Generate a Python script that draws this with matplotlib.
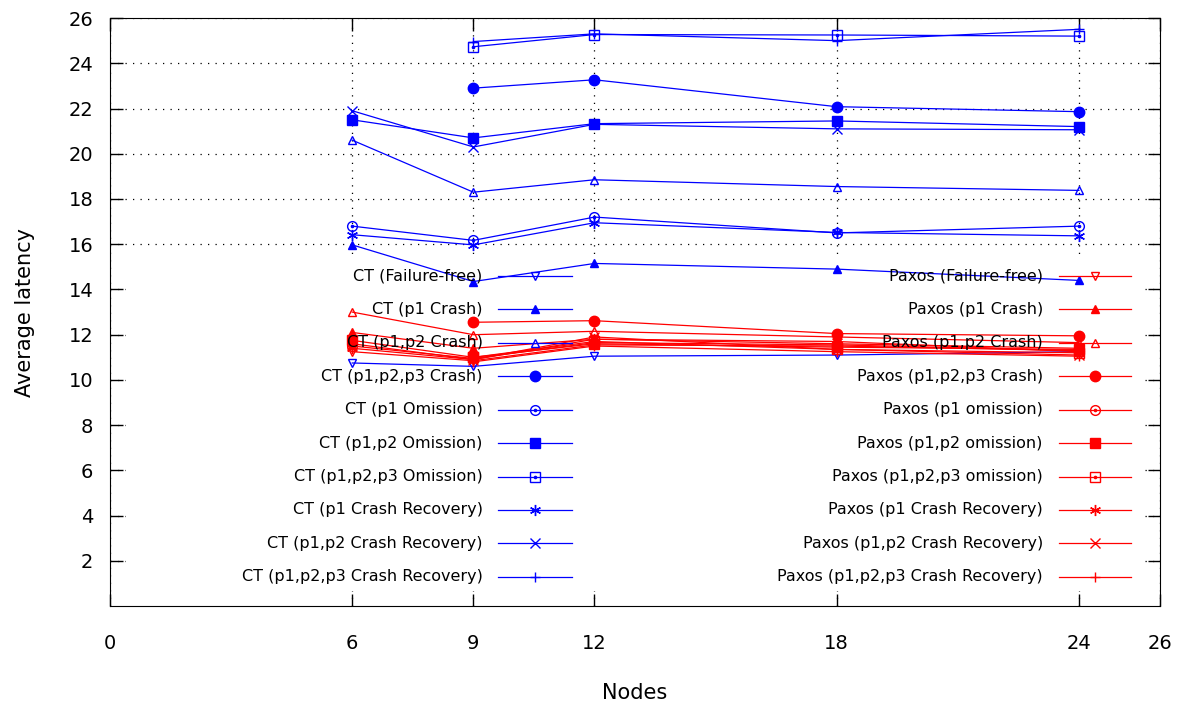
import numpy as np
import matplotlib.pyplot as plt
from matplotlib.patches import Rectangle

nan = np.nan
nodes = [6, 9, 12, 18, 24]

# CT series (average latency per node count)
ct_failure_free = [10.75, 10.6, 11.05, 11.1, 11.25]
ct_p1_crash = [15.97, 14.35, 15.15, 14.9, 14.4]
ct_p12_crash = [20.6, 18.3, 18.85, 18.55, 18.38]
ct_p123_crash = [nan, 22.9, 23.27, 22.08, 21.86]
ct_p1_omission = [16.8, 16.17, 17.2, 16.5, 16.8]
ct_p12_omission = [21.5, 20.7, 21.33, 21.45, 21.2]
ct_p123_omission = [nan, 24.73, 25.27, 25.25, 25.2]
ct_p1_recovery = [16.42, 15.97, 16.95, 16.52, 16.37]
ct_p12_recovery = [21.9, 20.3, 21.3, 21.1, 21.06]
ct_p123_recovery = [nan, 24.96, 25.3, 25.0, 25.5]

# Paxos series
px_failure_free = [11.25, 10.85, 11.55, 11.5, 11.3]
px_p1_crash = [12.1, 11.4, 11.8, 11.6, 11.4]
px_p12_crash = [13.0, 12.0, 12.15, 11.9, 11.65]
px_p123_crash = [nan, 12.55, 12.62, 12.05, 11.95]
px_p1_omission = [11.5, 10.95, 11.65, 11.55, 11.3]
px_p12_omission = [11.75, 11.0, 11.6, 11.45, 11.35]
px_p123_omission = [nan, 11.0, 11.7, 11.35, 11.2]
px_p1_recovery = [11.4, 10.9, 11.8, 11.7, 11.25]
px_p12_recovery = [11.6, 10.9, 11.9, 11.35, 11.1]
px_p123_recovery = [nan, 10.8, 11.5, 11.25, 11.05]

ct_labels = ["CT (Failure-free)", "CT (p1 Crash)", "CT (p1,p2 Crash)",
             "CT (p1,p2,p3 Crash)", "CT (p1 Omission)", "CT (p1,p2 Omission)",
             "CT (p1,p2,p3 Omission)", "CT (p1 Crash Recovery)",
             "CT (p1,p2 Crash Recovery)", "CT (p1,p2,p3 Crash Recovery)"]
px_labels = ["Paxos (Failure-free)", "Paxos (p1 Crash)", "Paxos (p1,p2 Crash)",
             "Paxos (p1,p2,p3 Crash)", "Paxos (p1 omission)", "Paxos (p1,p2 omission)",
             "Paxos (p1,p2,p3 omission)", "Paxos (p1 Crash Recovery)",
             "Paxos (p1,p2 Crash Recovery)", "Paxos (p1,p2,p3 Crash Recovery)"]

ct_values = [ct_failure_free, ct_p1_crash, ct_p12_crash, ct_p123_crash, ct_p1_omission,
             ct_p12_omission, ct_p123_omission, ct_p1_recovery, ct_p12_recovery,
             ct_p123_recovery]
px_values = [px_failure_free, px_p1_crash, px_p12_crash, px_p123_crash, px_p1_omission,
             px_p12_omission, px_p123_omission, px_p1_recovery, px_p12_recovery,
             px_p123_recovery]

# gnuplot-like point types: (marker, filled, centre dot, size)
styles = [("v", False, False, 6), ("^", True, False, 6), ("^", False, False, 6),
          ("o", True, False, 7.5), ("o", False, True, 7), ("s", True, False, 7),
          ("s", False, True, 7), ((6, 2, 0), False, False, 8), ("x", False, False, 7),
          ("+", False, False, 7)]

fig, ax = plt.subplots(figsize=(11.87, 7.04), dpi=100)
fig.subplots_adjust(left=0.0927, right=0.977, bottom=0.139, top=0.9744)


def draw(x, y, color, style, **kw):
    marker, filled, dot, size = style
    ax.plot(x, y, color=color, lw=0.9, marker=marker, markersize=size,
            markerfacecolor=color if filled else "none", markeredgecolor=color,
            markeredgewidth=1.0, zorder=3, **kw)
    if dot:
        ax.plot(x, y, ls="none", marker="o", markersize=1.6, color=color, zorder=3, **kw)


for vals, st in zip(ct_values, styles):
    draw(nodes, vals, "#0000ff", st)
for vals, st in zip(px_values, styles):
    draw(nodes, vals, "#ff0000", st)

# key (drawn like gnuplot: right-aligned text, sample line with point in the middle)
row0, step = 0.5612, 0.0568
for i in range(10):
    y = row0 - i * step
    for labels, color, tx, l0, l1 in [(ct_labels, "#0000ff", 0.355, 0.3695, 0.4397),
                                     (px_labels, "#ff0000", 0.8886, 0.9038, 0.973)]:
        ax.text(tx, y, labels[i], transform=ax.transAxes, ha="right", va="center",
                fontsize=11.5, zorder=4)
        ax.plot([l0, l1], [y, y], transform=ax.transAxes, color=color, lw=0.9, zorder=4)
        draw([(l0 + l1) / 2], [y], color, styles[i], transform=ax.transAxes)

ax.set_xlim(0, 26)
ax.set_ylim(0, 26)
ax.set_xticks([0, 6, 9, 12, 18, 24, 26])
ax.set_yticks(range(2, 27, 2))
ax.tick_params(direction="in", length=9, width=1, top=True, right=True, labelsize=14)
ax.tick_params(axis="x", pad=20)
ax.tick_params(axis="y", pad=12)
ax.set_axisbelow(True)
ax.grid(True, color="black", linestyle=(0, (1, 5)), linewidth=0.9)
# opaque key box hides the grid below it
ax.add_patch(Rectangle((0.015, 0.025), 0.97, 0.565, transform=ax.transAxes,
                       facecolor="white", edgecolor="none", zorder=1))

ax.set_xlabel("Nodes", fontsize=15, labelpad=22)
ax.set_ylabel("Average latency", fontsize=15, labelpad=24)

plt.savefig("out.png")
